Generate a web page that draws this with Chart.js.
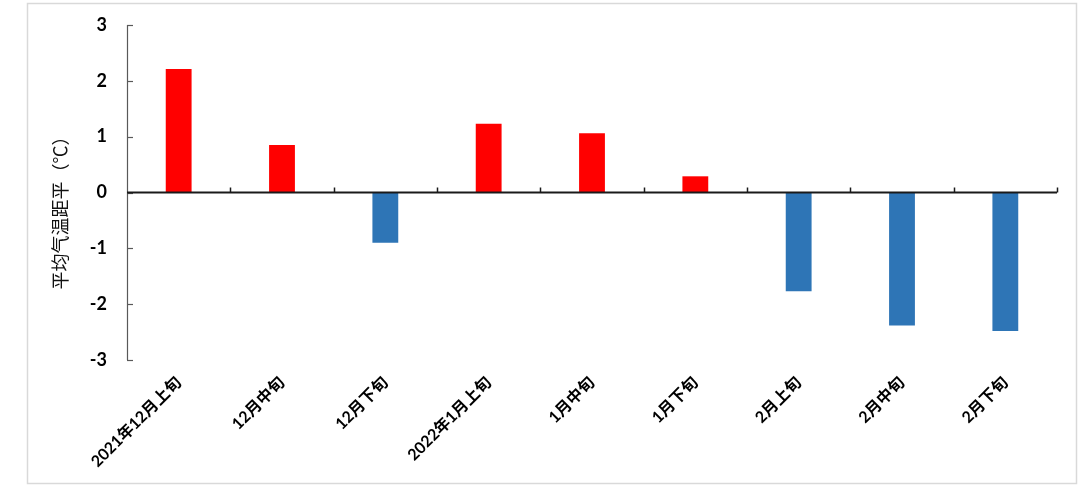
<!DOCTYPE html>
<html><head><meta charset="utf-8">
<script src="https://cdn.jsdelivr.net/npm/chart.js@4.4.0/dist/chart.umd.min.js"></script>
<style>html,body{margin:0;padding:0;background:#fff;} #wrap{position:relative;width:1080px;height:491px;}</style>
</head><body><div id="wrap"><canvas id="c" width="1080" height="491"></canvas></div>
<script>
const categories = ['2021年12月上旬','12月中旬','12月下旬','2022年1月上旬','1月中旬','1月下旬','2月上旬','2月中旬','2月下旬'];
const anomalies = [2.21, 0.85, -0.90, 1.23, 1.06, 0.29, -1.77, -2.38, -2.48];
const yTicks = [-3, -2, -1, 0, 1, 2, 3];
const yTitle = '平均气温距平（℃）';
const warmColor = '#FF0000';
const coldColor = '#2E75B6';

const barColors = anomalies.map(v => v >= 0 ? warmColor : coldColor);

const framePlugin = {
  id: 'frame',
  beforeDraw(chart) {
    const ctx = chart.ctx;
    ctx.save();
    ctx.fillStyle = '#fff';
    ctx.fillRect(0, 0, chart.width, chart.height);
    ctx.strokeStyle = '#d9d9d9';
    ctx.lineWidth = 1.5;
    ctx.strokeRect(27.5, 3.5, 1049, 480);
    ctx.restore();
  }
};

const axesPlugin = {
  id: 'axesLines',
  afterDatasetsDraw(chart) {
    const ctx = chart.ctx;
    const {x, y} = chart.scales;
    const area = chart.chartArea;
    ctx.save();
    // y axis line
    ctx.strokeStyle = '#595959';
    ctx.lineWidth = 1.2;
    ctx.beginPath();
    ctx.moveTo(area.left + 0.5, y.getPixelForValue(yTicks[yTicks.length - 1]));
    ctx.lineTo(area.left + 0.5, y.getPixelForValue(yTicks[0]));
    ctx.stroke();
    // y ticks inward
    yTicks.forEach(t => {
      const py = Math.round(y.getPixelForValue(t)) + 0.5;
      ctx.beginPath();
      ctx.moveTo(area.left, py);
      ctx.lineTo(area.left + 6, py);
      ctx.stroke();
    });
    // zero line
    const y0 = y.getPixelForValue(0);
    ctx.strokeStyle = '#1a1a1a';
    ctx.lineWidth = 1.8;
    ctx.beginPath();
    ctx.moveTo(area.left, y0);
    ctx.lineTo(area.right, y0);
    ctx.stroke();
    // category boundary ticks upward
    const step = x.getPixelForValue(1) - x.getPixelForValue(0);
    ctx.lineWidth = 1.5;
    for (let i = 1; i <= categories.length; i++) {
      const px = Math.round(x.getPixelForValue(i) - step / 2) + 0.5;
      ctx.beginPath();
      ctx.moveTo(px, y0);
      ctx.lineTo(px, y0 - 5);
      ctx.stroke();
    }
    ctx.restore();
  },
  afterDraw(chart) {
    const ctx = chart.ctx;
    const area = chart.chartArea;
    ctx.save();
    ctx.translate(area.left - 67, (area.top + area.bottom) / 2 + 16);
    ctx.rotate(-Math.PI / 2);
    ctx.font = '18px "Noto Sans CJK SC"';
    ctx.fillStyle = '#111';
    ctx.textAlign = 'center';
    ctx.textBaseline = 'middle';
    ctx.fillText(yTitle, 0, 0);
    ctx.restore();
  }
};

new Chart(document.getElementById('c'), {
  type: 'bar',
  data: {
    labels: categories,
    datasets: [{
      data: anomalies,
      backgroundColor: barColors,
      borderWidth: 0,
      barPercentage: 0.5,
      categoryPercentage: 0.5
    }]
  },
  options: {
    responsive: false,
    animation: false,
    devicePixelRatio: 1,
    layout: { padding: { top: 25, right: 23, left: 0, bottom: 0 } },
    plugins: { legend: { display: false }, tooltip: { enabled: false } },
    scales: {
      x: {
        grid: { display: false },
        border: { display: false },
        ticks: {
          autoSkip: false,
          minRotation: 45,
          maxRotation: 45,
          padding: 5,
          color: '#000',
          font: { family: 'Lato, "Noto Sans CJK SC"', size: 16, weight: 'bold' }
        },
        afterFit(scale) { scale.height = 131; }
      },
      y: {
        min: yTicks[0],
        max: yTicks[yTicks.length - 1],
        grid: { display: true, drawOnChartArea: false, drawTicks: true, tickLength: 20, tickColor: 'rgba(0,0,0,0)', color: 'rgba(0,0,0,0)' },
        border: { display: false },
        ticks: {
          stepSize: 1,
          padding: 0,
          color: '#000',
          font: { family: 'Lato, "Noto Sans CJK SC"', size: 18, weight: 'bold' }
        },
        afterFit(scale) { scale.width = 127; }
      }
    }
  },
  plugins: [framePlugin, axesPlugin]
});
</script>
</body></html>
